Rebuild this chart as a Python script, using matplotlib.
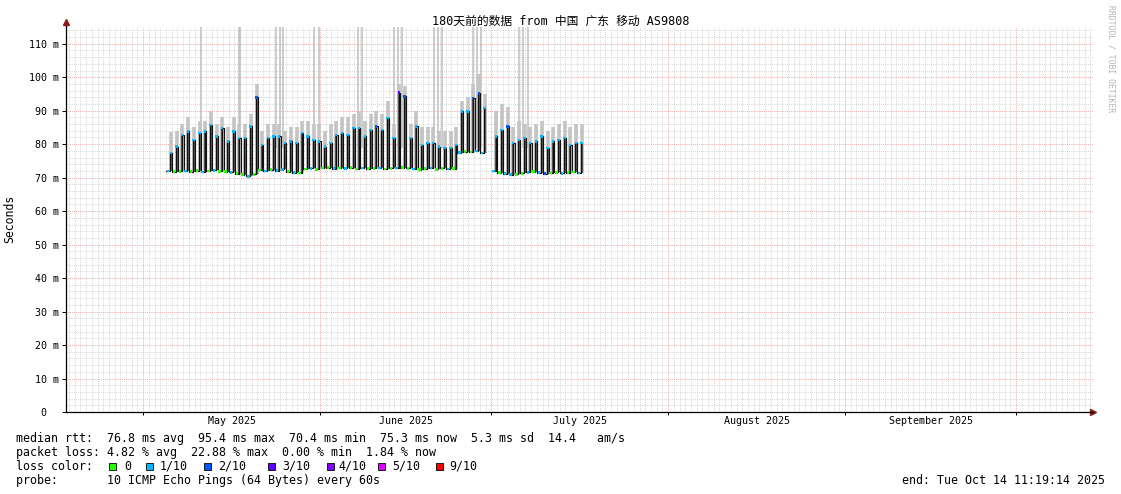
import numpy as np
import pandas as pd
import matplotlib
matplotlib.use('Agg')
import matplotlib.pyplot as plt
import matplotlib.dates as mdates
from matplotlib.ticker import MultipleLocator, FuncFormatter, NullFormatter
from matplotlib.patches import Rectangle

# time frame of the graph (180 days up to the end stamp)
start = pd.Timestamp('2025-04-17 11:19:14')
end = pd.Timestamp('2025-10-14 11:19:14')

# daily median rtt (ms): morning low and evening peak, plus top of the smoke
days_a = pd.date_range('2025-05-05', '2025-06-29', freq='D')
low_a = [72.0, 71.8, 71.9, 72.0, 71.8, 72.1, 71.7, 72.0, 72.2, 71.9,
         71.8, 71.6, 71.2, 70.9, 70.4, 71.0, 72.3, 72.0, 72.4, 72.1,
         72.5, 71.8, 71.5, 71.4, 72.6, 72.8, 72.5, 72.9, 73.0, 72.7,
         72.9, 72.8, 73.0, 72.6, 72.9, 72.7, 72.8, 72.9, 72.6, 72.8,
         72.9, 73.0, 72.8, 72.6, 72.4, 72.7, 72.9, 72.5, 72.8, 72.6,
         72.7, 77.5, 77.8, 77.6, 77.9, 77.4]
high_a = [77.3, 79.3, 82.8, 83.8, 81.3, 83.3, 83.8, 85.8, 82.3, 84.8,
          80.8, 83.8, 81.8, 81.8, 85.3, 94.0, 79.8, 81.8, 82.3, 82.3,
          80.3, 80.8, 80.3, 83.3, 82.3, 81.3, 80.8, 79.3, 80.3, 82.8,
          83.3, 82.8, 84.8, 84.8, 82.3, 84.3, 85.3, 84.3, 87.8, 81.8,
          95.4, 94.3, 81.8, 85.3, 79.8, 80.3, 80.3, 79.3, 78.8, 78.8,
          79.8, 89.8, 89.8, 93.8, 95.2, 90.8]
smoke_a = [83.5, 84, 86, 88, 85, 87, 87, 90, 86, 88,
           85, 88, 86, 86, 89, 98, 84, 86, 86, 86,
           84, 85, 85, 87, 87, 86, 86, 84, 86, 87,
           88, 88, 89, 90, 87, 89, 90, 89, 93, 86,
           98, 97.5, 86, 90, 85, 85, 85, 84, 84, 84,
           85, 93, 94, 98, 101, 95]
low_loss_a = [1, 0, 0, 1, 0, 0, 1, 0, 1, 0, 0, 1, 0, 0, 1, 0, 0, 1, 0, 1,
              1, 0, 1, 0, 0, 1, 0, 0, 0, 1, 0, 1, 0, 0, 1, 0, 0, 1, 0, 0,
              1, 0, 0, 1, 0, 0, 1, 0, 0, 1, 0, 1, 0, 0, 1, 1]
high_loss_a = [1, 1, 1, 1, 1, 1, 1, 1, 1, 1, 1, 1, 1, 1, 1, 2, 1, 1, 1, 1,
               1, 1, 1, 1, 1, 1, 1, 1, 1, 1, 1, 1, 1, 1, 1, 1, 2, 1, 1, 1,
               3, 2, 1, 1, 1, 1, 1, 1, 1, 1, 1, 1, 1, 2, 2, 1]

days_b = pd.date_range('2025-07-01', '2025-07-16', freq='D')
low_b = [72.0, 71.5, 71.2, 70.9, 71.0, 71.3, 71.6, 71.8,
         71.5, 71.2, 71.4, 71.6, 71.3, 71.5, 71.7, 71.4]
high_b = [82.3, 84.3, 85.3, 80.3, 81.3, 81.8, 80.3, 80.8,
          82.3, 78.8, 80.8, 81.3, 81.8, 79.8, 80.3, 80.3]
smoke_b = [90, 92, 91, 85, 87, 86, 85, 86, 87, 84, 85, 86, 87, 85, 86, 86]
low_loss_b = [1, 0, 1, 1, 0, 0, 1, 0, 1, 2, 0, 0, 1, 0, 0, 1]
high_loss_b = [1, 1, 2, 1, 1, 1, 1, 1, 1, 1, 1, 1, 1, 1, 1, 1]

# single samples whose slowest ping went off the scale
spikes = pd.to_datetime([
    '2025-05-11 03:00', '2025-05-17 18:00', '2025-05-17 22:00',
    '2025-05-24 05:00', '2025-05-24 22:00', '2025-05-25 14:00',
    '2025-05-31 00:00', '2025-05-31 21:00', '2025-06-07 17:00',
    '2025-06-08 09:00', '2025-06-14 00:00', '2025-06-14 17:00',
    '2025-06-15 09:00', '2025-06-21 00:00', '2025-06-21 17:00',
    '2025-06-22 09:00', '2025-06-27 19:00', '2025-06-28 14:00',
    '2025-06-29 07:00', '2025-07-05 22:00', '2025-07-06 15:00',
    '2025-07-07 12:00'])
spike_low, spike_top = 79, 116

loss_labels = ['0', '1/10', '2/10', '3/10', '4/10', '5/10', '9/10']
loss_colors = ['#26ff00', '#00b8ff', '#0059ff', '#5e00ff', '#7e00ff', '#dd00ff', '#ff0000']

title = '180天前的数据 from 中国 广东 移动 AS9808'
stats = [
    'median rtt:  76.8 ms avg  95.4 ms max  70.4 ms min  75.3 ms now  5.3 ms sd  14.4   am/s',
    'packet loss: 4.82 % avg  22.88 % max  0.00 % min  1.84 % now',
]
probe = 'probe:       10 ICMP Echo Pings (64 Bytes) every 60s'
end_text = 'end: Tue Oct 14 11:19:14 2025'

plt.rcParams['font.family'] = ['DejaVu Sans Mono', 'Noto Sans CJK SC']

W, H = 1121, 494
fig = plt.figure(figsize=(W / 100, H / 100), dpi=100)
ax = fig.add_axes([66 / W, 1 - 412 / H, 1027 / W, 385 / H])


def draw_segment(days, low, high, smoke, low_loss, high_loss):
    low = np.array(low)
    high = np.array(high)
    t_low = days + pd.Timedelta(hours=2)
    t_high = days + pd.Timedelta(hours=18)
    t_peak = days + pd.Timedelta(hours=21)
    t = np.empty(2 * len(days), dtype='datetime64[ns]')
    t[0::2] = t_low.values
    t[1::2] = t_high.values
    v = np.empty(2 * len(days))
    v[0::2] = low
    v[1::2] = high
    # smoke
    ax.vlines(t_peak, low, smoke, color='#c4c4c4', lw=2.6, zorder=2)
    ax.vlines(t_peak, low, high, color='#5a5a5a', lw=1.6, zorder=3)
    # median
    ax.plot(t, v, drawstyle='steps-post', color='#111111', lw=0.85, zorder=4)
    ax.scatter(days + pd.Timedelta(hours=10), low, s=3.2, marker='s', lw=0,
               c=[loss_colors[i] for i in low_loss], zorder=5)
    ax.scatter(t_high + pd.Timedelta(hours=2), high, s=3.2, marker='s', lw=0,
               c=[loss_colors[i] for i in high_loss], zorder=5)


ax.vlines(spikes, spike_low, spike_top, color='#c0c0c0', lw=1.1, zorder=1)
draw_segment(days_a, low_a, high_a, smoke_a, low_loss_a, high_loss_a)
draw_segment(days_b, low_b, high_b, smoke_b, low_loss_b, high_loss_b)

ax.set_xlim(start, end)
ax.set_ylim(0, 115)

# grid
ax.set_axisbelow(True)
ax.xaxis.set_major_locator(mdates.MonthLocator())
ax.xaxis.set_minor_locator(mdates.DayLocator())
ax.xaxis.set_major_formatter(NullFormatter())
ax.yaxis.set_major_locator(MultipleLocator(10))
ax.yaxis.set_minor_locator(MultipleLocator(2))
ax.yaxis.set_major_formatter(FuncFormatter(lambda v, p: '0  ' if v == 0 else f'{v:.0f} m'))
ax.grid(which='minor', color='#cccccc', lw=0.6, ls=(0, (1, 1.3)))
ax.grid(which='major', color='#f29090', lw=0.6, ls=(0, (1, 1.3)))
ax.tick_params(axis='y', which='major', length=3, width=0.7, pad=2, labelsize=7.2)
ax.tick_params(axis='x', which='major', length=2, width=0.7)
ax.tick_params(which='minor', length=0)

for s in ['top', 'right']:
    ax.spines[s].set_visible(False)
for s in ['left', 'bottom']:
    ax.spines[s].set_linewidth(0.9)
    ax.spines[s].set_color('black')

# axis arrows
ax.plot([0, 0], [1, 1.01], transform=ax.transAxes, clip_on=False, color='black', lw=0.9)
ax.plot(1.0, 0, marker='>', ms=4, color='#8b1a1a', transform=ax.transAxes, clip_on=False)
ax.plot(0, 1.013, marker='^', ms=4, color='#8b1a1a', transform=ax.transAxes, clip_on=False)

# month labels in the middle of each month
month_starts = pd.date_range('2025-05-01', '2025-10-01', freq='MS')
for m0, m1 in zip(month_starts[:-1], month_starts[1:]):
    mid = m0 + (m1 - m0) / 2
    ax.text(mid, -0.024, m0.strftime('%B %Y'), transform=ax.get_xaxis_transform(),
            ha='center', va='center', fontsize=7.2)

# title, axis label, watermark
fig.text(0.5, 1 - 21 / H, title, ha='center', va='center', fontsize=8.5)
fig.text(10 / W, 1 - 219 / H, 'Seconds', rotation=90, ha='center', va='center', fontsize=8.3)
fig.text(1111 / W, 1 - 5 / H, 'RRDTOOL / TOBI OETIKER', rotation=-90, ha='center', va='top',
         fontsize=5.8, color='#b4b4b4')

# legend / stats block
fs = 8.4
for i, line in enumerate(stats):
    fig.text(16 / W, 1 - (438 + 14 * i) / H, line, ha='left', va='center', fontsize=fs)
fig.text(16 / W, 1 - 466 / H, 'loss color:', ha='left', va='center', fontsize=fs)
box_x = [109, 146, 204, 268, 327, 378, 436]
label_x = [124, 160, 218, 282, 338, 392, 449]
for bx, lx, lab, col in zip(box_x, label_x, loss_labels, loss_colors):
    fig.patches.append(Rectangle((bx / W, 1 - 470 / H), 7 / W, 7 / H, transform=fig.transFigure,
                                 facecolor=col, edgecolor='black', lw=0.6))
    fig.text(lx / W, 1 - 466 / H, lab, ha='left', va='center', fontsize=fs)
fig.text(16 / W, 1 - 480 / H, probe, ha='left', va='center', fontsize=fs)
fig.text(1105 / W, 1 - 480 / H, end_text, ha='right', va='center', fontsize=fs)

fig.savefig('out.png', dpi=100, facecolor='white')
